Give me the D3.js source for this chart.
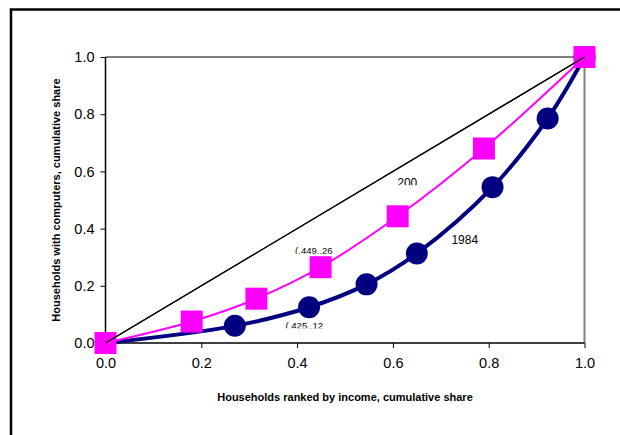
<!DOCTYPE html>
<html><head><meta charset="utf-8">
<script src="https://cdn.jsdelivr.net/npm/d3@7"></script>
<style>body{margin:0;background:#fff}svg{display:block;font-family:Arial,"Liberation Sans",sans-serif}</style>
</head><body>
<script>
const xTicks = [0, 0.2, 0.4, 0.6, 0.8, 1.0];
const yTicks = [0, 0.2, 0.4, 0.6, 0.8, 1.0];
const series2000 = [[0,0],[0.18,0.075],[0.315,0.155],[0.449,0.265],[0.61,0.443],[0.79,0.68],[1,1]];
const series1984 = [[0,0],[0.27,0.06],[0.425,0.125],[0.545,0.205],[0.65,0.313],[0.808,0.545],[0.923,0.785],[1,1]];
const diagonal = [[0,0],[1,1]];
const labels = [
  {text:"200", x:0.63, y:0.545, size:12, clipH:10},
  {text:"1984", x:0.75, y:0.345, size:12, clipH:14},
  {text:"(.449,.26", x:0.435, y:0.31, size:9.5, clipH:9},
  {text:"(.425,.12", x:0.415, y:0.05, size:9.5, clipH:9}
];

const W=620,H=435;
const svg=d3.select("body").append("svg").attr("width",W).attr("height",H);
svg.append("rect").attr("x",11).attr("y",9.5).attr("width",700).attr("height",600)
  .attr("fill","none").attr("stroke","#000").attr("stroke-width",2.5);

const x=d3.scaleLinear().domain([0,1]).range([105.5,584.5]);
const y=d3.scaleLinear().domain([0,1]).range([343,57]);

svg.append("path").attr("d",`M${x(0)},${y(1)}H${x(1)}V${y(0)}`)
  .attr("fill","none").attr("stroke","#808080").attr("stroke-width",2);

const xAxis=svg.append("g").attr("transform",`translate(0,${y(0)})`)
  .call(d3.axisBottom(x).tickValues(xTicks).tickFormat(d3.format(".1f")).tickSize(5).tickPadding(10));
const yAxis=svg.append("g").attr("transform",`translate(${x(0)},0)`)
  .call(d3.axisLeft(y).tickValues(yTicks).tickFormat(d3.format(".1f")).tickSize(5).tickPadding(6));
[xAxis,yAxis].forEach(a=>{
  a.select(".domain").attr("stroke","#000").attr("stroke-width",1.5);
  a.selectAll(".tick line").attr("stroke","#000");
  a.selectAll("text").attr("font-size","14.5px").attr("fill","#000").attr("font-family","Arial, 'Liberation Sans', sans-serif");
});
yAxis.selectAll(".domain").attr("d",`M0,${y(1)}V${y(0)}`);
xAxis.selectAll(".domain").attr("d",`M${x(0)},0H${x(1)}`);

svg.append("text").attr("x",345).attr("y",401).attr("text-anchor","middle")
  .attr("font-size","11px").attr("font-weight","bold").text("Households ranked by income, cumulative share");
svg.append("text").attr("transform","translate(60,200) rotate(-90)").attr("text-anchor","middle")
  .attr("font-size","11px").attr("font-weight","bold").text("Households with computers, cumulative share");

const line=d3.line().x(d=>x(d[0])).y(d=>y(d[1]));
const smooth=d3.line().x(d=>x(d[0])).y(d=>y(d[1])).curve(d3.curveCatmullRom.alpha(0.5));

svg.append("path").datum(diagonal).attr("d",line).attr("fill","none").attr("stroke","#000").attr("stroke-width",1.2);
svg.append("path").datum(series1984).attr("d",smooth).attr("fill","none").attr("stroke","#000080").attr("stroke-width",4);
svg.append("path").datum(series2000).attr("d",smooth).attr("fill","none").attr("stroke","#ff00ff").attr("stroke-width",2);

svg.selectAll(".c").data(series1984.slice(1)).enter().append("circle")
  .attr("cx",d=>x(d[0])).attr("cy",d=>y(d[1])).attr("r",11).attr("fill","#000080");
svg.selectAll(".s").data(series2000).enter().append("rect")
  .attr("x",d=>x(d[0])-11).attr("y",d=>y(d[1])-11).attr("width",22).attr("height",22).attr("fill","#ff00ff");
svg.append("path").datum(diagonal).attr("d",line).attr("fill","none").attr("stroke","#000").attr("stroke-width",1.2);

const defs=svg.append("defs");
labels.forEach((l,i)=>{
  const px=x(l.x), py=y(l.y);
  defs.append("clipPath").attr("id","lc"+i).append("rect")
    .attr("x",px-40).attr("y",py-l.size).attr("width",80).attr("height",l.clipH);
  svg.append("text").attr("x",px).attr("y",py).attr("text-anchor","middle")
    .attr("font-size",l.size+"px").attr("fill","#000").attr("clip-path",`url(#lc${i})`).text(l.text);
});
</script>
</body></html>
